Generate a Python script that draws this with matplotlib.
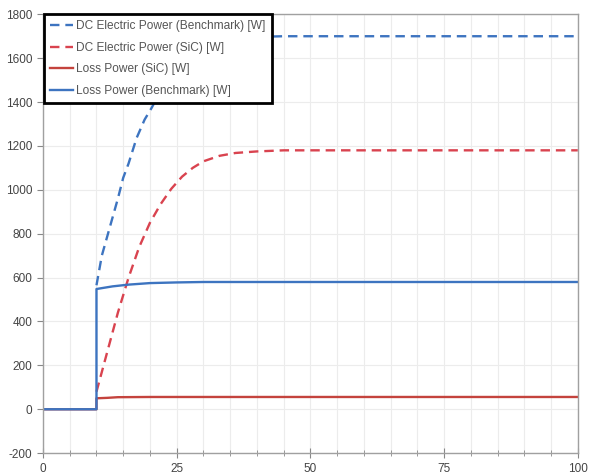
import matplotlib
matplotlib.use("Agg")
import matplotlib.pyplot as plt
from matplotlib.ticker import MultipleLocator

# values (time, power in W)
bench_dc_t = [10, 11, 12.5, 14, 15, 16, 17.5, 19, 20.3, 22, 24, 26, 28, 30, 33, 36, 40, 45, 50, 100]
bench_dc_w = [565, 700, 830, 960, 1055, 1120, 1236, 1320, 1373, 1450, 1520, 1575, 1615, 1645, 1672, 1688, 1697, 1700, 1700, 1700]

sic_dc_t = [10, 12, 14, 16, 18, 20, 22, 24, 26, 28, 30, 33, 36, 40, 45, 100]
sic_dc_w = [80, 260, 440, 600, 740, 850, 935, 1005, 1060, 1100, 1130, 1155, 1168, 1175, 1180, 1180]

sic_loss_t = [0, 10, 10, 12, 14, 20, 30, 100]
sic_loss_w = [0, 0, 50, 52, 55, 56, 56, 56]

bench_loss_t = [0, 10, 10, 13, 16, 20, 25, 30, 100]
bench_loss_w = [0, 0, 548, 560, 568, 575, 578, 580, 580]

labels = [
    "DC Electric Power (Benchmark) [W]",
    "DC Electric Power (SiC) [W]",
    "Loss Power (SiC) [W]",
    "Loss Power (Benchmark) [W]",
]

BLUE = "#3d74c0"
RED = "#d9434f"
RED_DARK = "#c4433d"

plt.rcParams["font.family"] = ["Liberation Sans", "DejaVu Sans"]
plt.rcParams["axes.unicode_minus"] = False

fig = plt.figure(figsize=(5.89, 4.76), dpi=100)
ax = fig.add_axes([0.073, 0.048, 0.908, 0.922])

ax.plot(bench_dc_t, bench_dc_w, color=BLUE, lw=1.7, dashes=(4, 2.5), label=labels[0])
ax.plot(sic_dc_t, sic_dc_w, color=RED, lw=1.7, dashes=(4, 2.5), label=labels[1])
ax.plot(sic_loss_t, sic_loss_w, color=RED_DARK, lw=1.7, label=labels[2])
ax.plot(bench_loss_t, bench_loss_w, color=BLUE, lw=1.7, label=labels[3])

ax.set_xlim(0, 100)
ax.set_ylim(-200, 1800)
ax.xaxis.set_major_locator(MultipleLocator(25))
ax.xaxis.set_minor_locator(MultipleLocator(5))
ax.yaxis.set_major_locator(MultipleLocator(200))

ax.grid(True, which="both", axis="x", color="#ececec", lw=0.8)
ax.grid(True, which="major", axis="y", color="#ececec", lw=0.8)
ax.set_axisbelow(True)

for s in ax.spines.values():
    s.set_color("#a0a0a0")
    s.set_linewidth(1.0)

ax.tick_params(axis="both", which="both", colors="#888888", labelcolor="#444444", labelsize=8.5)
ax.tick_params(axis="x", which="major", direction="inout", length=7)
ax.tick_params(axis="x", which="minor", direction="inout", length=5)
ax.tick_params(axis="y", which="major", direction="out", length=4)

leg = ax.legend(loc="upper left", bbox_to_anchor=(0.002, 1.0), fontsize=8.6, frameon=True,
                fancybox=False, borderaxespad=0.0, handlelength=1.9, handletextpad=0.3,
                labelspacing=0.8, borderpad=0.5)
leg.get_frame().set_edgecolor("black")
leg.get_frame().set_linewidth(2.0)
leg.get_frame().set_alpha(1.0)
for t in leg.get_texts():
    t.set_color("#555555")

fig.savefig("out.png", dpi=100)
